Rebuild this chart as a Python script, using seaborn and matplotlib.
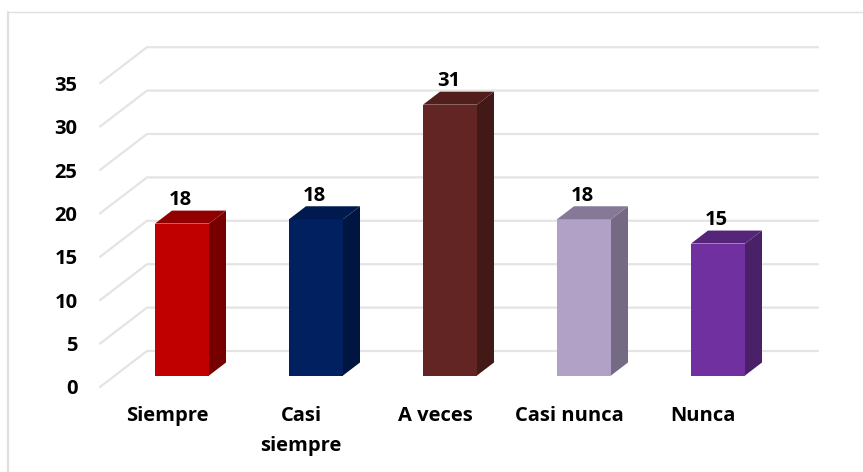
import pandas as pd
import seaborn as sns
from matplotlib import pyplot as plt
from matplotlib.lines import Line2D
from matplotlib.patches import Polygon

categories = ["Siempre", "Casi\nsiempre", "A veces", "Casi nunca", "Nunca"]
values = [17.5, 18, 31.2, 18, 15.2]
value_labels = ["18", "18", "31", "18", "15"]
y_ticks = [0, 5, 10, 15, 20, 25, 30, 35]
front_colors = ["#C00000", "#002060", "#632523", "#B2A1C7", "#7030A0"]
side_colors = ["#760000", "#001540", "#421917", "#746A83", "#4A2068"]
top_colors = ["#900000", "#001A50", "#521E1C", "#857997", "#542578"]

W, H = 863, 472
PX_Y = 8.68    # pixels per unit
PX_X = 134.0   # pixels per category
DEPTH_X = 17 / PX_X
DEPTH_Y = 13 / PX_Y

sns.set_theme(style="white")
plt.rcParams["font.family"] = ["Open Sans", "DejaVu Sans"]
plt.rcParams["font.weight"] = "bold"

fig = plt.figure(figsize=(W / 100, H / 100), dpi=100)
left, right, base, bottom, top = 115, 785, 375.5, 392, 20
ax = fig.add_axes([left / W, 1 - bottom / H, (right - left) / W, (bottom - top) / H])

df = pd.DataFrame({"cat": categories, "val": values})
sns.barplot(data=df, x="cat", y="val", hue="cat", palette=front_colors, saturation=1,
            width=0.403, legend=False, ax=ax, zorder=3)
ax.set_xlabel("")
ax.set_ylabel("")
sns.despine(ax=ax, left=True, bottom=True)

# wall and floor lines, front ends sit lower-left of the bars
back_shift = (base - 351) / PX_Y
front_shift = (base - 387) / PX_Y
x_front = (100 - left) / PX_X - 0.5
x_back = (147 - left) / PX_X - 0.5
x_end = (818 - left) / PX_X - 0.5
grid = "#E4E4E4"
for v in y_ticks:
    ax.plot([x_front, x_back, x_end], [v + front_shift, v + back_shift, v + back_shift],
            color=grid, lw=1.6, clip_on=False, zorder=1, solid_joinstyle="miter")

# fake 3d faces from the bars seaborn drew
bars = sorted([b for b in ax.patches if b.get_height() > 0], key=lambda b: b.get_x())
for i, b in enumerate(bars):
    b.set_edgecolor("none")
    x0, x1, h = b.get_x(), b.get_x() + b.get_width(), b.get_height()
    ax.add_patch(Polygon([(x1, 0), (x1 + DEPTH_X, DEPTH_Y), (x1 + DEPTH_X, h + DEPTH_Y), (x1, h)],
                         closed=True, fc=side_colors[i], ec="none", zorder=3))
    ax.add_patch(Polygon([(x0, h), (x0 + DEPTH_X, h + DEPTH_Y), (x1 + DEPTH_X, h + DEPTH_Y), (x1, h)],
                         closed=True, fc=top_colors[i], ec="none", zorder=3))
    ax.annotate(value_labels[i], ((x0 + x1) / 2, h), xytext=(-1, 9.5), textcoords="offset points",
                ha="center", va="bottom", fontsize=14.5, fontweight="bold", color="black", zorder=4)

ax.set_yticks([v + front_shift for v in y_ticks], [str(v) for v in y_ticks])
ax.set_xticks([i - 15 / PX_X for i in range(len(categories))], categories)
ax.set_xlim(-0.5, 4.5)
ax.set_ylim(-(bottom - base) / PX_Y, (base - top) / PX_Y)
ax.tick_params(axis="y", length=0, pad=27, labelsize=14.5, labelcolor="black")
ax.tick_params(axis="x", length=0, pad=10, labelsize=14.5, labelcolor="black")
for t in ax.get_xticklabels():
    t.set_linespacing(1.65)
ax.set_facecolor("none")
for s in ax.spines.values():
    s.set_visible(False)

# chart frame
frame = "#E0E0E0"
fig.add_artist(Line2D([8 / W, 8 / W], [0, 1 - 12 / H], color=frame, lw=1.6))
fig.add_artist(Line2D([8 / W, 1], [1 - 12 / H, 1 - 12 / H], color=frame, lw=1.0))

fig.savefig("out.png", dpi=100, facecolor="white")
